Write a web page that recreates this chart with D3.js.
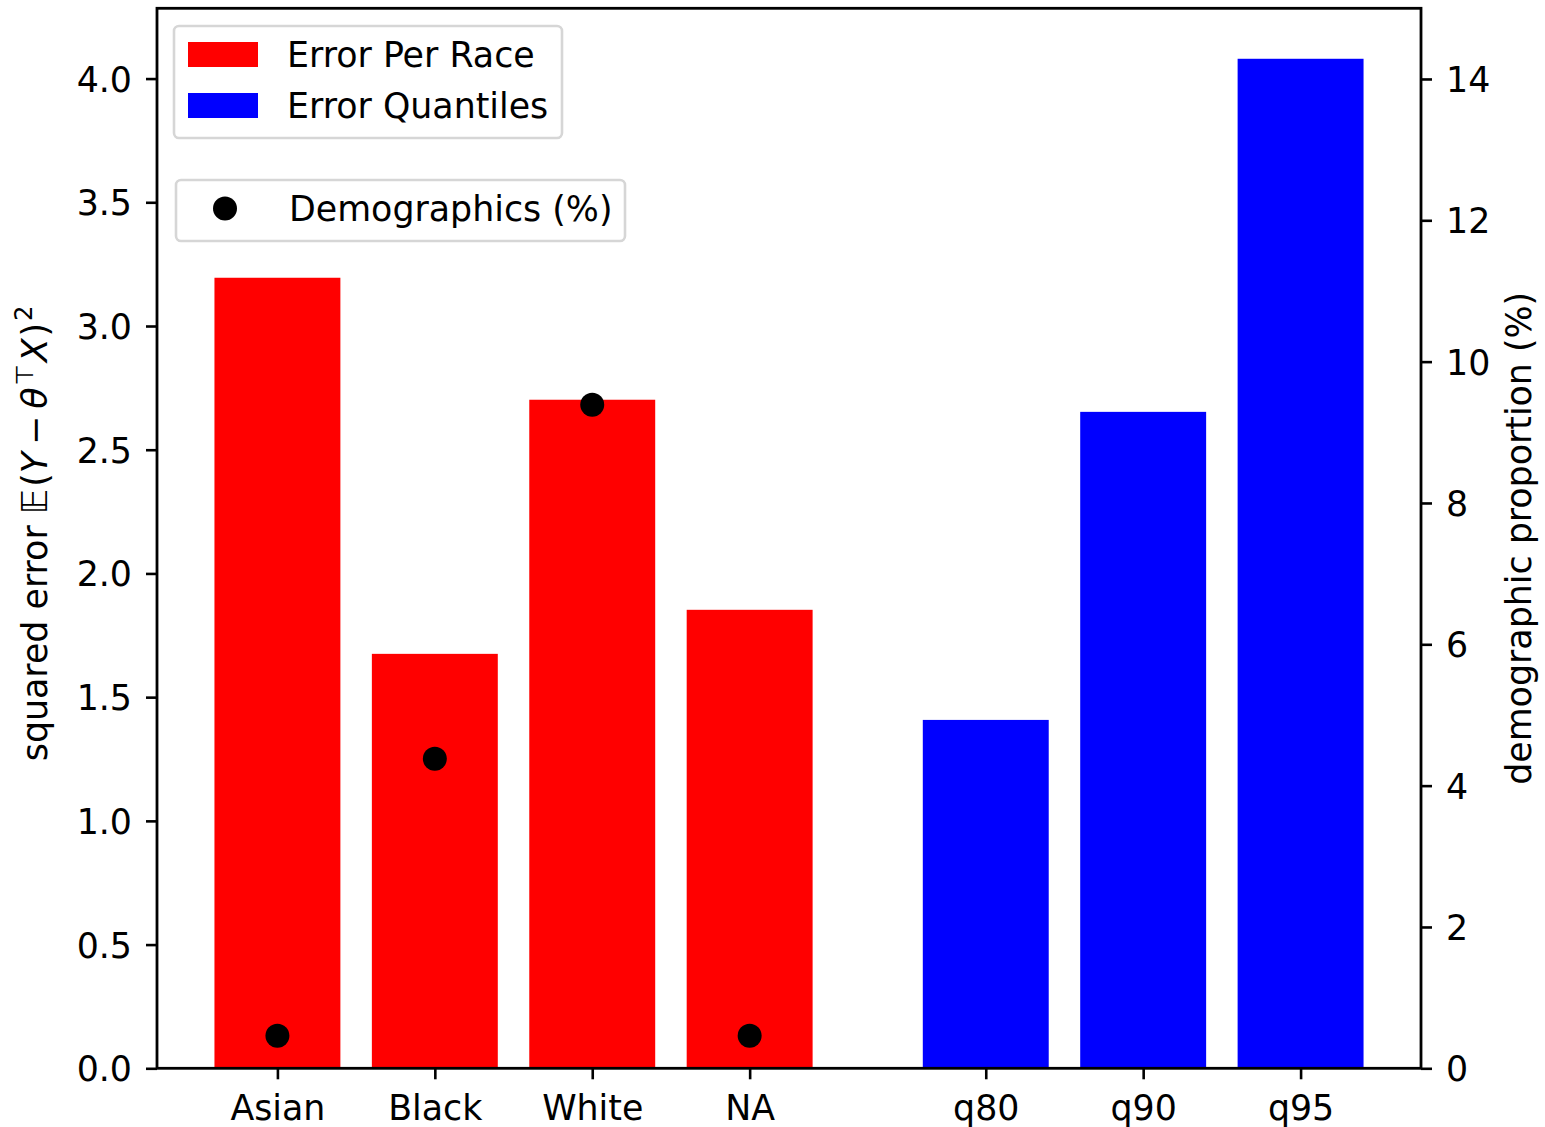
<!DOCTYPE html>
<html>
<head>
<meta charset="utf-8">
<script src="https://cdn.jsdelivr.net/npm/d3@7"></script>
<style>
  html, body { margin: 0; padding: 0; background: #fff; }
  svg { display: block; font-family: "DejaVu Sans", sans-serif; }
</style>
</head>
<body>
<svg id="chart" width="1545" height="1127"></svg>
<script>
// Squared error per race group and per error quantile, with demographic share on a twin axis
const raceLabels = ["Asian", "Black", "White", "NA"];
const raceError = [3.195, 1.675, 2.702, 1.853];
const quantileLabels = ["q80", "q90", "q95"];
const quantileError = [1.408, 2.653, 4.080];
const demographics = [0.46, 4.38, 9.39, 0.46];
const leftTicks = [0, 0.5, 1, 1.5, 2, 2.5, 3, 3.5, 4];
const rightTicks = [0, 2, 4, 6, 8, 10, 12, 14];

const svg = d3.select("#chart");
const M = { left: 157, right: 1421, top: 8.3, bottom: 1068.3 };
const FS = 34.8;

// slot positions: race groups side by side, a half-slot gap before the quantiles
const racePos = raceLabels.map((_, i) => i);
const quantPos = quantileLabels.map((_, i) => raceLabels.length + 0.5 + i);
const barW = 0.8;
const lo = -barW / 2, hi = quantPos[quantPos.length - 1] + barW / 2;
const pad = (hi - lo) * 0.05;

const x = d3.scaleLinear().domain([lo - pad, hi + pad]).range([M.left, M.right]);
const yMax = d3.max(raceError.concat(quantileError)) * 1.05;
const yL = d3.scaleLinear().domain([0, yMax]).range([M.bottom, M.top]);
const yR = d3.scaleLinear().domain([0, 15]).range([M.bottom, M.top]);

// bars
const bars = raceLabels.map((c, i) => ({ c, p: racePos[i], v: raceError[i], col: "#ff0000" }))
  .concat(quantileLabels.map((c, i) => ({ c, p: quantPos[i], v: quantileError[i], col: "#0000ff" })));

svg.append("g").selectAll("rect").data(bars).join("rect")
  .attr("x", d => x(d.p - barW / 2))
  .attr("width", d => x(d.p + barW / 2) - x(d.p - barW / 2))
  .attr("y", d => yL(d.v))
  .attr("height", d => yL(0) - yL(d.v))
  .attr("fill", d => d.col);

// demographic share markers
svg.append("g").selectAll("circle").data(demographics).join("circle")
  .attr("cx", (d, i) => x(racePos[i]))
  .attr("cy", d => yR(d))
  .attr("r", 12)
  .attr("fill", "#000");

// axes
const axisStyle = g => {
  g.select(".domain").remove();
  g.selectAll(".tick line").attr("stroke", "#000").attr("stroke-width", 2.6);
  g.selectAll(".tick text").attr("font-size", FS).attr("fill", "#000")
    .attr("font-family", "DejaVu Sans");
};

svg.append("g").attr("transform", `translate(${M.left},0)`)
  .call(d3.axisLeft(yL).tickValues(leftTicks).tickFormat(d3.format(".1f")).tickSizeOuter(0).tickSize(11).tickPadding(14))
  .call(axisStyle)
  .call(g => g.selectAll(".tick text").attr("dy", "0.36em"));

svg.append("g").attr("transform", `translate(${M.right},0)`)
  .call(d3.axisRight(yR).tickValues(rightTicks).tickFormat(d3.format("d")).tickSizeOuter(0).tickSize(11).tickPadding(14))
  .call(axisStyle)
  .call(g => g.selectAll(".tick text").attr("dy", "0.36em"));

const xTickVals = racePos.concat(quantPos);
const xTickText = raceLabels.concat(quantileLabels);
svg.append("g").attr("transform", `translate(0,${M.bottom})`)
  .call(d3.axisBottom(x).tickValues(xTickVals).tickFormat((d, i) => xTickText[i]).tickSizeOuter(0).tickSize(11).tickPadding(14))
  .call(axisStyle)
  .call(g => g.selectAll(".tick text").attr("dy", "0.76em"));

// frame
svg.append("rect")
  .attr("x", M.left).attr("y", M.top)
  .attr("width", M.right - M.left).attr("height", M.bottom - M.top)
  .attr("fill", "none").attr("stroke", "#000").attr("stroke-width", 2.8);

// left axis title with math
const midY = (M.top + M.bottom) / 2;
const lt = svg.append("text")
  .attr("transform", `translate(47,${midY - 5}) rotate(-90)`)
  .attr("text-anchor", "middle").attr("font-size", FS).attr("fill", "#000");
lt.append("tspan").text("squared error ");
lt.append("tspan").attr("font-style", "italic").text("\u{1D53C}");
lt.append("tspan").attr("dx", 2).text("(");
lt.append("tspan").attr("font-style", "italic").text("Y");
lt.append("tspan").attr("dx", 7).text("\u2212");
lt.append("tspan").attr("dx", 7).attr("font-style", "italic").text("\u03B8");
lt.append("tspan").attr("dx", 2).attr("font-size", FS * 0.7).attr("dy", -14).text("\u22A4");
lt.append("tspan").attr("dx", 2).attr("font-style", "italic").attr("dy", 14).text("X");
lt.append("tspan").attr("dx", 2).text(")");
lt.append("tspan").attr("dx", 2).attr("font-size", FS * 0.7).attr("dy", -15).text("2");

// right axis title
svg.append("text")
  .attr("transform", `translate(1531,${midY}) rotate(-90)`)
  .attr("text-anchor", "middle").attr("font-size", FS).attr("fill", "#000")
  .text("demographic proportion (%)");

// legend: bar colours
const lg1 = svg.append("g");
lg1.append("rect").attr("x", 174).attr("y", 26).attr("width", 388).attr("height", 112)
  .attr("rx", 5).attr("fill", "#fff").attr("fill-opacity", 0.8)
  .attr("stroke", "#d6d6d6").attr("stroke-width", 2.6);
[["Error Per Race", "#ff0000", 54.5], ["Error Quantiles", "#0000ff", 105.5]].forEach(([t, c, cy]) => {
  lg1.append("rect").attr("x", 188).attr("y", cy - 12.5).attr("width", 70).attr("height", 25).attr("fill", c);
  lg1.append("text").attr("x", 287).attr("y", cy).attr("dy", "0.36em")
    .attr("font-size", FS).attr("fill", "#000").text(t);
});

// legend: markers
const lg2 = svg.append("g");
lg2.append("rect").attr("x", 176).attr("y", 180).attr("width", 449).attr("height", 61)
  .attr("rx", 5).attr("fill", "#fff").attr("fill-opacity", 0.8)
  .attr("stroke", "#d6d6d6").attr("stroke-width", 2.6);
lg2.append("circle").attr("cx", 225).attr("cy", 208.5).attr("r", 12).attr("fill", "#000");
lg2.append("text").attr("x", 289).attr("y", 208.5).attr("dy", "0.36em")
  .attr("font-size", FS).attr("fill", "#000").text("Demographics (%)");
</script>
</body>
</html>
